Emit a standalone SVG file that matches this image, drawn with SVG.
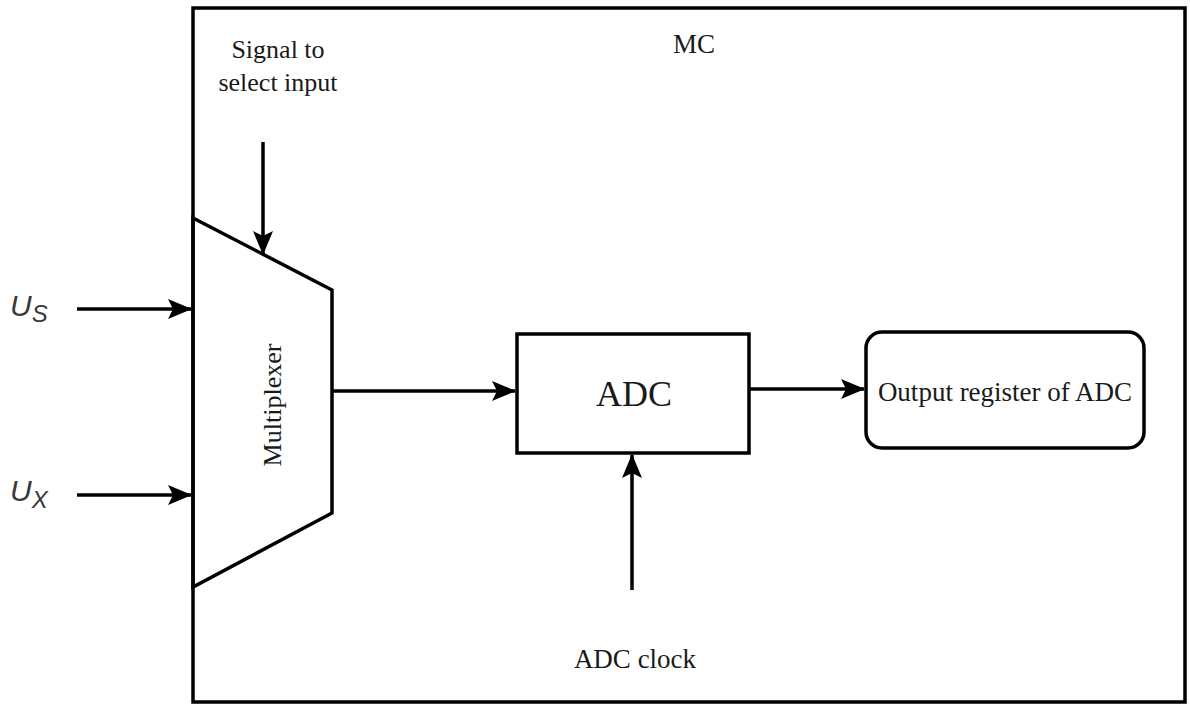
<svg xmlns="http://www.w3.org/2000/svg" width="1190" height="706" viewBox="0 0 1190 706">
<style>
.s{fill:none;stroke:#000;stroke-width:3.5}
.t{font-family:"Liberation Serif","Times New Roman",serif;fill:#1a1a1a}
.u{font-family:"Liberation Sans",Arial,sans-serif;font-style:italic;fill:#3a3a3a}
</style>
<defs>
<marker id="ah" markerWidth="24" markerHeight="22" refX="23" refY="11" orient="auto" markerUnits="userSpaceOnUse">
<path d="M0,1 L24,11 L0,21 L5,11 Z" fill="#000"/>
</marker>
</defs>
<rect width="1190" height="706" fill="#fff"/>
<g id="mc">
<rect class="s" x="193" y="8" width="992" height="694"/>
<text class="t" x="694" y="53" font-size="27" text-anchor="middle">MC</text>
</g>
<g id="mux">
<polygon class="s" points="193,218 332,290 332,513 193,587" fill="#fff"/>
<text class="t" transform="translate(281,405) rotate(-90)" font-size="26" text-anchor="middle" fill="#333">Multiplexer</text>
</g>
<g id="adc">
<rect class="s" x="517" y="334" width="232" height="119" fill="#fff"/>
<text class="t" x="634" y="406" font-size="36" text-anchor="middle">ADC</text>
</g>
<g id="reg">
<rect class="s" x="866" y="332" width="278" height="116" rx="16" fill="#fff"/>
<text class="t" x="1005" y="401" font-size="27" text-anchor="middle">Output register of ADC</text>
</g>
<g id="labels">
<text class="t" x="278" y="58" font-size="26" text-anchor="middle">Signal to</text>
<text class="t" x="278" y="91" font-size="26" text-anchor="middle">select input</text>
<text class="t" x="635" y="668" font-size="27" text-anchor="middle">ADC clock</text>
<text class="u" x="10" y="316" font-size="30">U<tspan font-size="24" dy="6">S</tspan></text>
<text class="u" x="10" y="501" font-size="30">U<tspan font-size="24" dy="7">X</tspan></text>
</g>
<g id="connectors">
<line class="s" x1="77" y1="309" x2="191" y2="309" marker-end="url(#ah)"/>
<line class="s" x1="77" y1="495" x2="191" y2="495" marker-end="url(#ah)"/>
<line class="s" x1="263" y1="142" x2="263" y2="254" marker-end="url(#ah)"/>
<line class="s" x1="332" y1="391" x2="515" y2="391" marker-end="url(#ah)"/>
<line class="s" x1="749" y1="389" x2="864" y2="389" marker-end="url(#ah)"/>
<line class="s" x1="632" y1="590" x2="632" y2="455" marker-end="url(#ah)"/>
</g>
</svg>
